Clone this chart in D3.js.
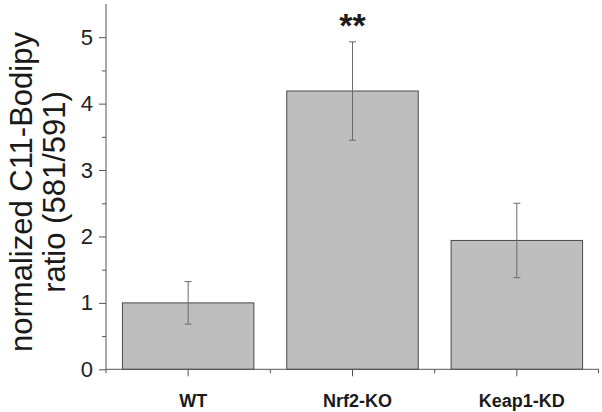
<!DOCTYPE html>
<html>
<head>
<meta charset="utf-8">
<script src="https://cdn.jsdelivr.net/npm/d3@7"></script>
<style>
  html, body { margin: 0; padding: 0; background: #fff; }
  svg { display: block; font-family: Arial, "Liberation Sans", sans-serif; }
</style>
</head>
<body>
<svg id="chart" width="602" height="412"></svg>
<script>
const categories = ["WT", "Nrf2-KO", "Keap1-KD"];
const values = [1.0, 4.19, 1.94];
const errors = [0.32, 0.74, 0.56];
const significance = ["", "**", ""];
const yTicks = [0, 1, 2, 3, 4, 5];
const yMinorTicks = [0.5, 1.5, 2.5, 3.5, 4.5];
const yLabelLines = ["normalized C11-Bodipy", "ratio (581/591)"];

const svg = d3.select("#chart");
const x0 = 106, x1 = 599, yBottom = 369.3, yTop = 4;

const x = d3.scaleBand().domain(categories).range([x0, x1])
  .paddingInner(0.2).paddingOuter(0.1);
const y = d3.scaleLinear().domain([0, 5.5]).range([yBottom, yTop]);

const axisColor = "#555";
const textColor = "#1a1a1a";

// bars
svg.append("g").selectAll("rect").data(categories).join("rect")
  .attr("x", d => x(d))
  .attr("y", (d, i) => y(values[i]))
  .attr("width", x.bandwidth())
  .attr("height", (d, i) => y(0) - y(values[i]))
  .attr("fill", "#bebebe")
  .attr("stroke", "#4a4a4a")
  .attr("stroke-width", 1);

// error bars
const eb = svg.append("g").attr("stroke", "#6a6a6a").attr("stroke-width", 1);
categories.forEach((c, i) => {
  const cx = x(c) + x.bandwidth() / 2;
  const top = y(values[i] + errors[i]);
  const bot = y(values[i] - errors[i]);
  eb.append("line").attr("x1", cx).attr("x2", cx).attr("y1", top).attr("y2", bot);
  eb.append("line").attr("x1", cx - 3.5).attr("x2", cx + 3.5).attr("y1", top).attr("y2", top);
  eb.append("line").attr("x1", cx - 3.5).attr("x2", cx + 3.5).attr("y1", bot).attr("y2", bot);
});

// significance stars
svg.append("g").selectAll("text").data(categories).join("text")
  .attr("x", d => x(d) + x.bandwidth() / 2)
  .attr("y", 37)
  .attr("text-anchor", "middle")
  .attr("font-size", 34)
  .attr("font-weight", "bold")
  .attr("fill", textColor)
  .text((d, i) => significance[i]);

// y axis
const yAxis = d3.axisLeft(y).tickValues(yTicks).tickSize(7).tickPadding(6)
  .tickFormat(d3.format("d"));
const gy = svg.append("g").attr("transform", `translate(${x0},0)`).call(yAxis);
gy.select(".domain").remove();
gy.selectAll(".tick line").attr("stroke", axisColor);
gy.selectAll(".tick text").attr("font-size", 22).attr("fill", "#222")
  .attr("font-family", "Arial, 'Liberation Sans', sans-serif");
const yMinor = d3.axisLeft(y).tickValues(yMinorTicks).tickSize(4).tickFormat("");
const gym = svg.append("g").attr("transform", `translate(${x0},0)`).call(yMinor);
gym.select(".domain").remove();
gym.selectAll(".tick line").attr("stroke", axisColor);
svg.append("line").attr("x1", x0).attr("x2", x0).attr("y1", yTop).attr("y2", yBottom)
  .attr("stroke", axisColor).attr("stroke-width", 1);

// x axis
svg.append("line").attr("x1", x0).attr("x2", x1).attr("y1", yBottom).attr("y2", yBottom)
  .attr("stroke", axisColor).attr("stroke-width", 1);
const gx = svg.append("g");
categories.forEach((c, i) => {
  const cx = x(c) + x.bandwidth() / 2;
  gx.append("line").attr("x1", cx).attr("x2", cx).attr("y1", yBottom).attr("y2", yBottom + 7)
    .attr("stroke", axisColor);
  const bx = x(c) - x.step() * x.paddingInner() / 2;
  gx.append("line").attr("x1", bx).attr("x2", bx).attr("y1", yBottom).attr("y2", yBottom + 4)
    .attr("stroke", axisColor);
  gx.append("text").attr("x", cx + 5).attr("y", 407)
    .attr("text-anchor", "middle").attr("font-size", 18).attr("font-weight", "bold")
    .attr("fill", textColor).text(c);
});
gx.append("line").attr("x1", x1 - 0.5).attr("x2", x1 - 0.5).attr("y1", yBottom).attr("y2", yBottom + 4)
  .attr("stroke", axisColor);

// y label
const yl = svg.append("text")
  .attr("transform", "translate(0,192) rotate(-90)")
  .attr("text-anchor", "middle")
  .attr("font-size", 31)
  .attr("fill", textColor);
yl.selectAll("tspan").data(yLabelLines).join("tspan")
  .attr("x", 0)
  .attr("y", (d, i) => i === 0 ? 32 : 65)
  .text(d => d);
</script>
</body>
</html>
